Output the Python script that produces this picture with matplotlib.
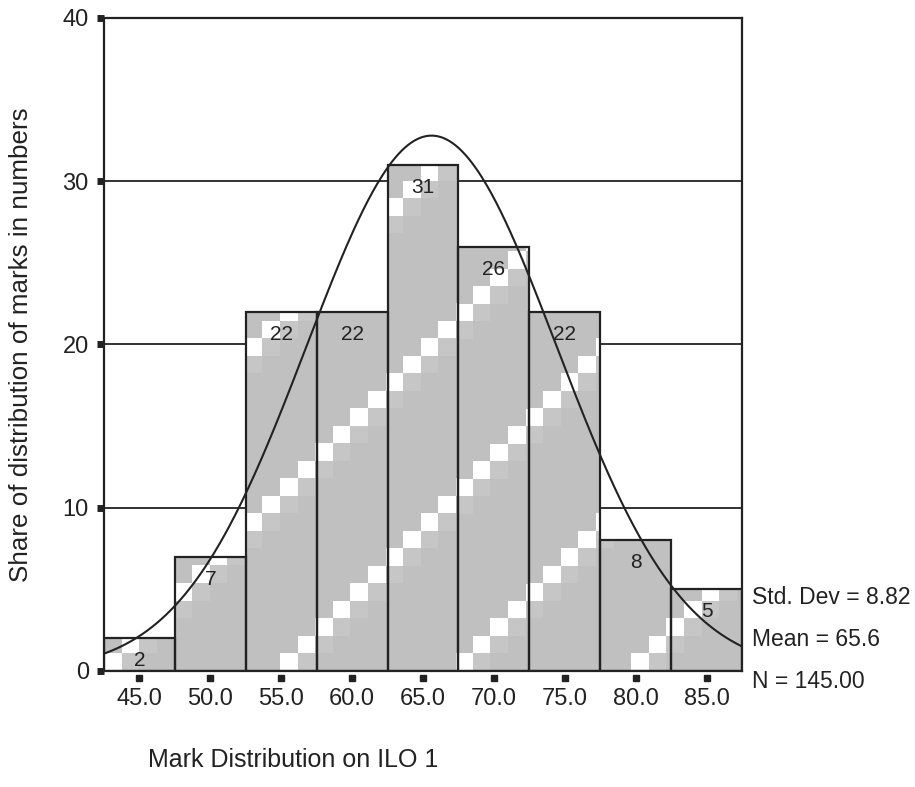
import numpy as np
import matplotlib.pyplot as plt
from matplotlib.patches import Rectangle

plt.rcParams['font.family'] = ['Liberation Sans', 'DejaVu Sans']

bin_centers = [45.0, 50.0, 55.0, 60.0, 65.0, 70.0, 75.0, 80.0, 85.0]
counts = [2, 7, 22, 22, 31, 26, 22, 8, 5]
tick_labels = ["45.0", "50.0", "55.0", "60.0", "65.0", "70.0", "75.0", "80.0", "85.0"]
y_ticks = [0, 10, 20, 30, 40]
std_dev = 8.82
mean = 65.6
n_total = 145
bin_width = 5.0

fig = plt.figure(figsize=(9.15, 7.87), dpi=100)
ax = fig.add_axes([0.1137, 0.1474, 0.6973, 0.8298])

x_lo = bin_centers[0] - bin_width / 2
x_hi = bin_centers[-1] + bin_width / 2
ax.set_xlim(x_lo, x_hi)
ax.set_ylim(0, 40)

# gridlines behind bars
for yv in y_ticks[1:-1]:
    ax.axhline(yv, color='#222222', lw=1.3, zorder=0)

# checker-stair texture (SPSS style fill)
sq_x, sq_y = 1.24, 1.07
nx = int(np.ceil((x_hi - x_lo) / sq_x))
ny = int(np.ceil(40 / sq_y))
tex = np.full((ny, nx, 3), 0.753)
for j in range(ny):
    for i in range(nx):
        d = (i - j) % 10
        if d == 0:
            tex[j, i] = 1.0
        elif d == 1:
            tex[j, i] = 0.78
tex = tex[::-1]

for c, h in zip(bin_centers, counts):
    rect = Rectangle((c - bin_width / 2, 0), bin_width, h, facecolor='none',
                     edgecolor='#222222', lw=1.6, zorder=3)
    ax.add_patch(rect)
    im = ax.imshow(tex, extent=(x_lo, x_lo + nx * sq_x, 0, ny * sq_y),
                   interpolation='nearest', aspect='auto', zorder=2)
    im.set_clip_path(rect)
    ax.text(c, h - 0.8, str(h), ha='center', va='top', fontsize=15,
            color='#222222', zorder=5)

# normal curve
xs = np.linspace(x_lo, x_hi, 400)
ys = n_total * bin_width / (std_dev * np.sqrt(2 * np.pi)) * np.exp(-0.5 * ((xs - mean) / std_dev) ** 2)
ax.plot(xs, ys, color='#222222', lw=1.5, zorder=4)

ax.set_xlim(x_lo, x_hi)
ax.set_ylim(0, 40)

# ticks
ax.set_yticks(y_ticks)
ax.set_yticklabels([str(v) for v in y_ticks])
ax.tick_params(axis='y', direction='out', length=5, width=5, color='#222222',
               labelsize=17, pad=6, labelcolor='#222222')
ax.set_xticks(bin_centers)
ax.set_xticklabels(tick_labels)
ax.tick_params(axis='x', length=0, labelsize=17, pad=12, labelcolor='#222222')
ax.plot(bin_centers, [-0.45] * len(bin_centers), 's', ms=4, color='#222222',
        clip_on=False, zorder=6)

for sp in ax.spines.values():
    sp.set_color('#222222')
    sp.set_linewidth(1.6)
    sp.set_zorder(6)

ax.set_ylabel("Share of distribution of marks in numbers", fontsize=18.7,
              color='#222222')
ax.yaxis.set_label_coords(-0.111, 0.5)

fig.text(148 / 915, 1 - 760 / 787, "Mark Distribution on ILO 1", fontsize=18,
         color='#222222', ha='left', va='center')

stats = [f"Std. Dev = {std_dev:.2f}", f"Mean = {mean:.1f}", f"N = {n_total:.2f}"]
for k, s in enumerate(stats):
    fig.text(752 / 915, 1 - (597 + 42 * k) / 787, s, fontsize=16.5,
             color='#222222', ha='left', va='center')

fig.savefig("out.png", dpi=100)
